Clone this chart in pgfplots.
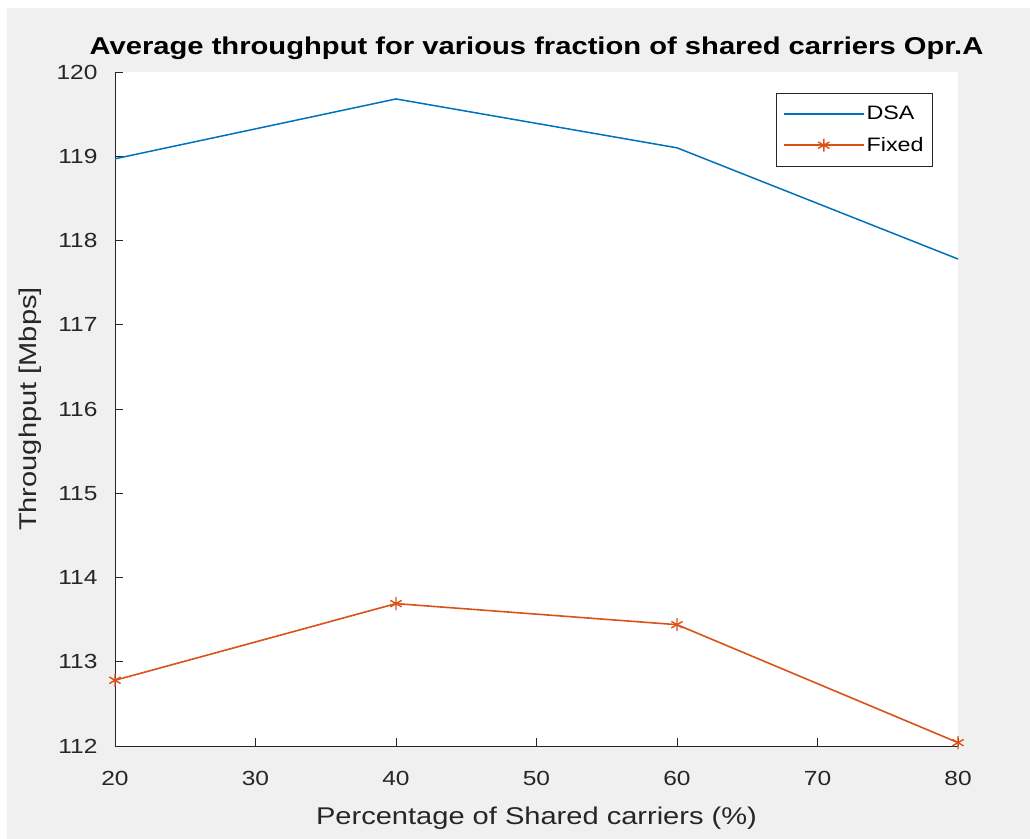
\documentclass[border=0pt]{standalone}
\usepackage{pgfplots}
\pgfplotsset{compat=1.18}
\usepackage{fontspec}
\setmainfont{Liberation Sans}[FakeStretch=1.2]
\definecolor{mblue}{HTML}{0072BD}
\definecolor{morange}{HTML}{D95319}
\definecolor{mgray}{HTML}{262626}
\definecolor{mbg}{HTML}{F0F0F0}
\begin{document}
\begin{tikzpicture}
\fill[white] (-115bp,-93bp) rectangle (915bp,746bp);
\fill[mbg] (-108bp,-93bp) rectangle (915bp,738bp);
\begin{axis}[
  scale only axis, width=843bp, height=674bp,
  anchor=south west, at={(0,0)},
  axis background/.style={fill=white},
  xmin=20, xmax=80, ymin=112, ymax=120,
  xtick={20,30,...,80}, ytick={112,113,...,120},
  axis x line*=bottom, axis y line*=left,
  axis line style={mgray, line width=0.8bp, -},
  tick align=inside, major tick length=8bp,
  tick style={mgray, line width=0.8bp},
  /pgf/number format/assume math mode=true,
  ticklabel style={font=\fontsize{20.5}{24}\selectfont, text=mgray},
  xticklabel style={yshift=-22bp},
  yticklabel style={xshift=-14bp},
  xlabel={Percentage of Shared carriers (\%)},
  ylabel={Throughput [Mbps]},
  label style={font=\fontsize{24.3}{28}\selectfont, text=mgray},
  xlabel style={yshift=-14bp},
  ylabel style={yshift=8bp},
  title={\textbf{Average throughput for various fraction of shared carriers Opr.A}},
  title style={font=\fontsize{24.4}{28}\selectfont, yshift=3bp},
  legend style={at={(1,1)}, anchor=north east, xshift=-25bp, yshift=-21bp,
    draw=mgray, line width=0.8bp, font=\fontsize{19.5}{23}\selectfont, fill=white,
    row sep=12bp, inner ysep=11bp, inner xsep=7bp},
  legend cell align=left,
  legend image code/.code={\draw[mark repeat=2,mark phase=2,#1] plot coordinates {(0bp,0bp) (40bp,0bp) (80bp,0bp)};},
  clip=false,
]
\addplot[color=mblue, line width=1.5bp, mark=none] coordinates {
  (20,118.97) (40,119.68) (60,119.10) (80,117.78)
};
\addlegendentry{DSA}
\addplot[color=morange, line width=1.6bp, mark=asterisk, mark size=6.5bp, mark options={line width=1.4bp}] coordinates {
  (20,112.78) (40,113.69) (60,113.44) (80,112.04)
};
\addlegendentry{Fixed}
\end{axis}
\end{tikzpicture}
\end{document}
